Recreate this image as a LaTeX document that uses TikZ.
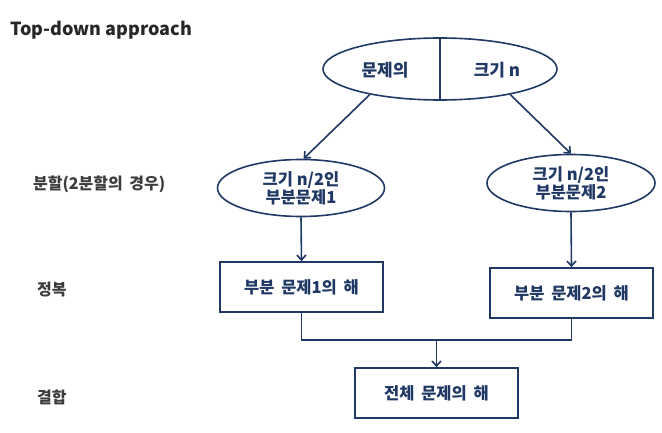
\documentclass[tikz,border=0pt]{standalone}
\usepackage{fontspec}
\setmainfont{Noto Sans CJK KR}
\newfontfamily\boxfont{Noto Sans CJK KR}[WordSpace=1.8]
\usetikzlibrary{positioning,shapes.geometric,arrows.meta}
\definecolor{navy}{HTML}{1F3864}
\definecolor{inkgray}{HTML}{262626}

\begin{document}
\begin{tikzpicture}[x=1pt,y=-1pt,>={Straight Barb[length=5pt,width=9pt]},
        line width=1.6pt,
        oval/.style={draw=navy,ellipse,inner sep=0pt,font=\fontsize{16.5}{18}\selectfont\bfseries,text=navy,align=center},
        solbox/.style={draw=navy,rectangle,inner sep=0pt,minimum width=163pt,minimum height=50pt,font=\boxfont\fontsize{16.5}{18}\selectfont\bfseries,text=navy},
        stage/.style={anchor=west,font=\boxfont\fontsize{16}{18}\selectfont\bfseries,text=inkgray!90}]
        \useasboundingbox (0,0) rectangle (662,433);
        \node[anchor=west,font=\fontsize{18}{22}\selectfont\bfseries,text=inkgray] (title) at (6,30) {Top-down approach};
        % top problem
        \node[oval,minimum width=234pt,minimum height=62pt] (top) at (440,69) {};
        \draw[navy] (top.north) -- (top.south);
        \node[font=\fontsize{17}{18}\selectfont\bfseries,text=navy] (topl) at (385,70) {문제의};
        \node[font=\fontsize{17}{18}\selectfont\bfseries,text=navy] (topr) at (497,70) {크기 n};
        % divide
        \node[oval,minimum width=167pt,minimum height=57pt] (sub1) at (301,188) {크기 n/2인\\부분문제1};
        \node[oval,minimum width=168pt,minimum height=57pt] (sub2) at (571,183) {크기 n/2인\\부분문제2};
        % conquer
        \node[solbox] (sol1) at (301.5,287) {부분 문제1의 해};
        \node[solbox] (sol2) at (571.5,293) {부분 문제2의 해};
        % combine
        \node[solbox] (whole) at (436.5,393) {전체 문제의 해};
        \coordinate (join) at (436.5,340);
        % stage labels
        \node[stage] (divide) at (29,184) {분할(2분할의 경우)};
        \node[stage] (conquer) at (33,290) {정복};
        \node[stage] (combine) at (33,397) {결합};
        \draw[->,navy] (top.200) -- (sub1.85);
        \draw[->,navy] (top.-20) -- (sub2.north);
        \draw[->,navy] (sub1.south) -- (sol1.north);
        \draw[->,navy] (sub2.south) -- (sol2.north);
        \draw[navy] (sol1.south) -- (sol1.south |- join) -- (sol2.south |- join) -- (sol2.south);
        \draw[->,navy] (join) -- (whole.north);
    \end{tikzpicture}
\end{document}
